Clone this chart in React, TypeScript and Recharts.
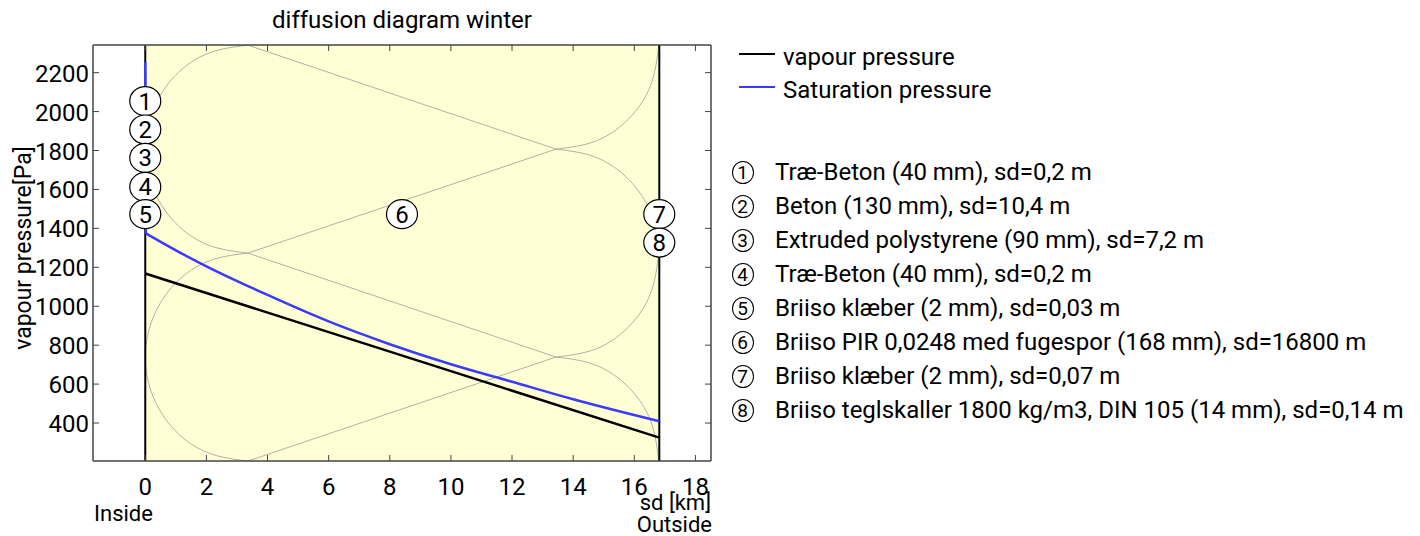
import { ComposedChart, Line, Scatter, XAxis, YAxis, ReferenceArea, ReferenceLine } from "recharts";

// layers from inside to outside, sd in km
const layerNames = [
  "Træ-Beton (40 mm), sd=0,2 m",
  "Beton (130 mm), sd=10,4 m",
  "Extruded polystyrene (90 mm), sd=7,2 m",
  "Træ-Beton (40 mm), sd=0,2 m",
  "Briiso klæber (2 mm), sd=0,03 m",
  "Briiso PIR 0,0248 med fugespor (168 mm), sd=16800 m",
  "Briiso klæber (2 mm), sd=0,07 m",
  "Briiso teglskaller 1800 kg/m3, DIN 105 (14 mm), sd=0,14 m",
];
const layerSd = [0.0002, 0.0104, 0.0072, 0.0002, 0.00003, 16.8, 0.00007, 0.00014];

const xTicks = [0, 2, 4, 6, 8, 10, 12, 14, 16, 18];
const yTicks = [400, 600, 800, 1000, 1200, 1400, 1600, 1800, 2000, 2200];

const vapour = [
  { x: 0, y: 1168 },
  { x: 16.818, y: 325 },
];

// saturation pressure: thin inner layers, then through the PIR board
const saturationInner = [
  { x: 0, y: 2253 },
  { x: 0.018, y: 1374 },
];
const saturationPir = [
  { x: 0.018, y: 1374 },
  { x: 1, y: 1287 },
  { x: 2, y: 1205 },
  { x: 4, y: 1058 },
  { x: 6, y: 922 },
  { x: 8, y: 805 },
  { x: 10, y: 702 },
  { x: 12, y: 612 },
  { x: 14, y: 522 },
  { x: 16.818, y: 409 },
];

// layer number bubbles
const markers = [
  { x: 0, y: 2054, n: 1 },
  { x: 0, y: 1908, n: 2 },
  { x: 0, y: 1762, n: 3 },
  { x: 0, y: 1613, n: 4 },
  { x: 0, y: 1473, n: 5 },
  { x: 8.4, y: 1473, n: 6 },
  { x: 16.818, y: 1473, n: 7 },
  { x: 16.818, y: 1327, n: 8 },
];

// insulation hatch symbol inside the PIR layer
const hatch = [
  [
    { x: 3.36, y: 2341 }, { x: 2.07, y: 2300 }, { x: 0.98, y: 2185 }, { x: 0.26, y: 2011 }, { x: 0, y: 1807 },
    { x: 0.26, y: 1603 }, { x: 0.98, y: 1429 }, { x: 2.07, y: 1314 }, { x: 3.36, y: 1273 },
  ],
  [
    { x: 3.36, y: 1273 }, { x: 2.07, y: 1232 }, { x: 0.98, y: 1117 }, { x: 0.26, y: 943 }, { x: 0, y: 739 },
    { x: 0.26, y: 535 }, { x: 0.98, y: 361 }, { x: 2.07, y: 246 }, { x: 3.36, y: 205 },
  ],
  [{ x: 3.36, y: 2341 }, { x: 13.44, y: 1807 }],
  [{ x: 3.36, y: 1273 }, { x: 13.44, y: 1807 }],
  [{ x: 3.36, y: 1273 }, { x: 13.44, y: 739 }],
  [{ x: 3.36, y: 205 }, { x: 13.44, y: 739 }],
  [{ x: 13.44, y: 1807 }, { x: 14.73, y: 1848 }, { x: 15.82, y: 1963 }, { x: 16.54, y: 2137 }, { x: 16.8, y: 2341 }],
  [{ x: 13.44, y: 1807 }, { x: 14.73, y: 1766 }, { x: 15.82, y: 1651 }, { x: 16.54, y: 1477 }, { x: 16.8, y: 1273 }],
  [{ x: 13.44, y: 739 }, { x: 14.73, y: 780 }, { x: 15.82, y: 895 }, { x: 16.54, y: 1069 }, { x: 16.8, y: 1273 }],
  [{ x: 13.44, y: 739 }, { x: 14.73, y: 698 }, { x: 15.82, y: 583 }, { x: 16.54, y: 409 }, { x: 16.8, y: 205 }],
];

const series = [
  { name: "vapour pressure", color: "#000000" },
  { name: "Saturation pressure", color: "#3a3aff" },
];

const font = "Roboto, sans-serif";
const axisColor = "#444";

let acc = 0;
const bounds = [0, ...layerSd.map((s) => (acc += s))];
const pirStart = bounds[5];
const pirEnd = bounds[6];

function BottomTick({ x, y, payload }: any) {
  return (
    <g>
      <line x1={x} x2={x} y1={y} y2={y - 6} stroke={axisColor} />
      <text x={x} y={y + 34} textAnchor="middle" fontSize={24} fontFamily={font} fill="#000">
        {payload.value}
      </text>
    </g>
  );
}
function TopTick({ x, y }: any) {
  return <line x1={x} x2={x} y1={y} y2={y + 6} stroke={axisColor} />;
}
function LeftTick({ x, y, payload }: any) {
  return (
    <g>
      <line x1={x} x2={x + 6} y1={y} y2={y} stroke={axisColor} />
      <text x={x - 4} y={y + 9} textAnchor="end" fontSize={24} fontFamily={font} fill="#000">
        {payload.value}
      </text>
    </g>
  );
}
function RightTick({ x, y }: any) {
  return <line x1={x} x2={x - 6} y1={y} y2={y} stroke={axisColor} />;
}

function Bubble({ cx, cy, payload }: any) {
  return (
    <g>
      <ellipse cx={cx} cy={cy} rx={15.5} ry={14.5} fill="#fff" stroke="#000" strokeWidth={1.2} />
      <text x={cx} y={cy + 8.5} textAnchor="middle" fontSize={24} fontFamily={font} fill="#000">
        {payload.n}
      </text>
    </g>
  );
}

const abs = (left: number, top: number, extra: any = {}) => ({
  position: "absolute" as const,
  left,
  top,
  fontFamily: font,
  whiteSpace: "nowrap" as const,
  lineHeight: 1,
  ...extra,
});

export default function App() {
  return (
    <div style={{ position: "absolute", left: 0, top: 0, width: 1420, height: 536, background: "#fff", overflow: "hidden" }}>
      <ComposedChart width={1420} height={536} margin={{ top: 15, right: 649, bottom: 45, left: 33 }}>
        <XAxis
          dataKey="x"
          type="number"
          domain={[-1.71, 18.51]}
          ticks={xTicks}
          allowDataOverflow
          tickLine={false}
          tickSize={0}
          tickMargin={0}
          tick={<BottomTick />}
          axisLine={{ stroke: axisColor, strokeWidth: 1.5 }}
        />
        <XAxis
          xAxisId="top"
          orientation="top"
          dataKey="x"
          type="number"
          domain={[-1.71, 18.51]}
          ticks={xTicks}
          allowDataOverflow
          tickLine={false}
          tickSize={0}
          tickMargin={0}
          tick={<TopTick />}
          axisLine={{ stroke: axisColor, strokeWidth: 1.5 }}
        />
        <YAxis
          dataKey="y"
          type="number"
          domain={[205, 2342]}
          ticks={yTicks}
          allowDataOverflow
          tickLine={false}
          tickSize={0}
          tickMargin={0}
          tick={<LeftTick />}
          axisLine={{ stroke: axisColor, strokeWidth: 1.5 }}
        />
        <YAxis
          yAxisId="right"
          orientation="right"
          dataKey="y"
          type="number"
          domain={[205, 2342]}
          ticks={yTicks}
          allowDataOverflow
          tickLine={false}
          tickSize={0}
          tickMargin={0}
          tick={<RightTick />}
          axisLine={{ stroke: axisColor, strokeWidth: 1.5 }}
        />
        <ReferenceArea x1={pirStart} x2={pirEnd} y1={205} y2={2342} fill="#ffffd6" fillOpacity={1} stroke="none" />
        {hatch.map((pts, i) => (
          <Line
            key={i}
            data={pts}
            dataKey="y"
            type="natural"
            stroke="#b2b2a4"
            strokeWidth={1}
            dot={false}
            activeDot={false}
            isAnimationActive={false}
            legendType="none"
          />
        ))}
        <ReferenceLine x={bounds[0]} stroke="#000" strokeWidth={2} />
        <ReferenceLine x={bounds[bounds.length - 1]} stroke="#000" strokeWidth={2} />
        <Line data={vapour} dataKey="y" name={series[0].name} type="linear" stroke={series[0].color} strokeWidth={2.5} dot={false} isAnimationActive={false} />
        <Line data={saturationInner} dataKey="y" name={series[1].name} type="linear" stroke={series[1].color} strokeWidth={2.5} dot={false} isAnimationActive={false} />
        <Line data={saturationPir} dataKey="y" name={series[1].name} type="monotone" stroke={series[1].color} strokeWidth={2.5} dot={false} isAnimationActive={false} />
        <Scatter data={markers} shape={<Bubble />} isAnimationActive={false} />
      </ComposedChart>

      <div style={abs(402, 8, { fontSize: 24, transform: "translateX(-50%)" })}>diffusion diagram winter</div>
      <div style={abs(23, 247.5, { fontSize: 23, transform: "translate(-50%, -50%) rotate(-90deg)" })}>vapour pressure[Pa]</div>
      <div style={abs(94, 503, { fontSize: 22 })}>Inside</div>
      <div style={abs(711, 491.5, { fontSize: 22, transform: "translateX(-100%)" })}>sd [km]</div>
      <div style={abs(712, 513.5, { fontSize: 22, transform: "translateX(-100%)" })}>Outside</div>

      {series.map((s, i) => (
        <div key={s.name} style={abs(739, 45 + i * 33, { fontSize: 24, display: "flex", alignItems: "center" })}>
          <span style={{ display: "inline-block", width: 36, height: 2, background: s.color, marginRight: 8, position: "relative", top: -3 }} />
          {s.name}
        </div>
      ))}
      {layerNames.map((name, i) => (
        <div key={i} style={abs(731.5, 160 + i * 34, { fontSize: 24, display: "flex", alignItems: "center" })}>
          <span
            style={{
              display: "inline-flex",
              alignItems: "center",
              justifyContent: "center",
              boxSizing: "border-box",
              width: 22,
              height: 23,
              border: "1px solid #000",
              borderRadius: "50%",
              marginRight: 21.5,
              fontSize: 19,
            }}
          >
            {i + 1}
          </span>
          {name}
        </div>
      ))}
    </div>
  );
}
